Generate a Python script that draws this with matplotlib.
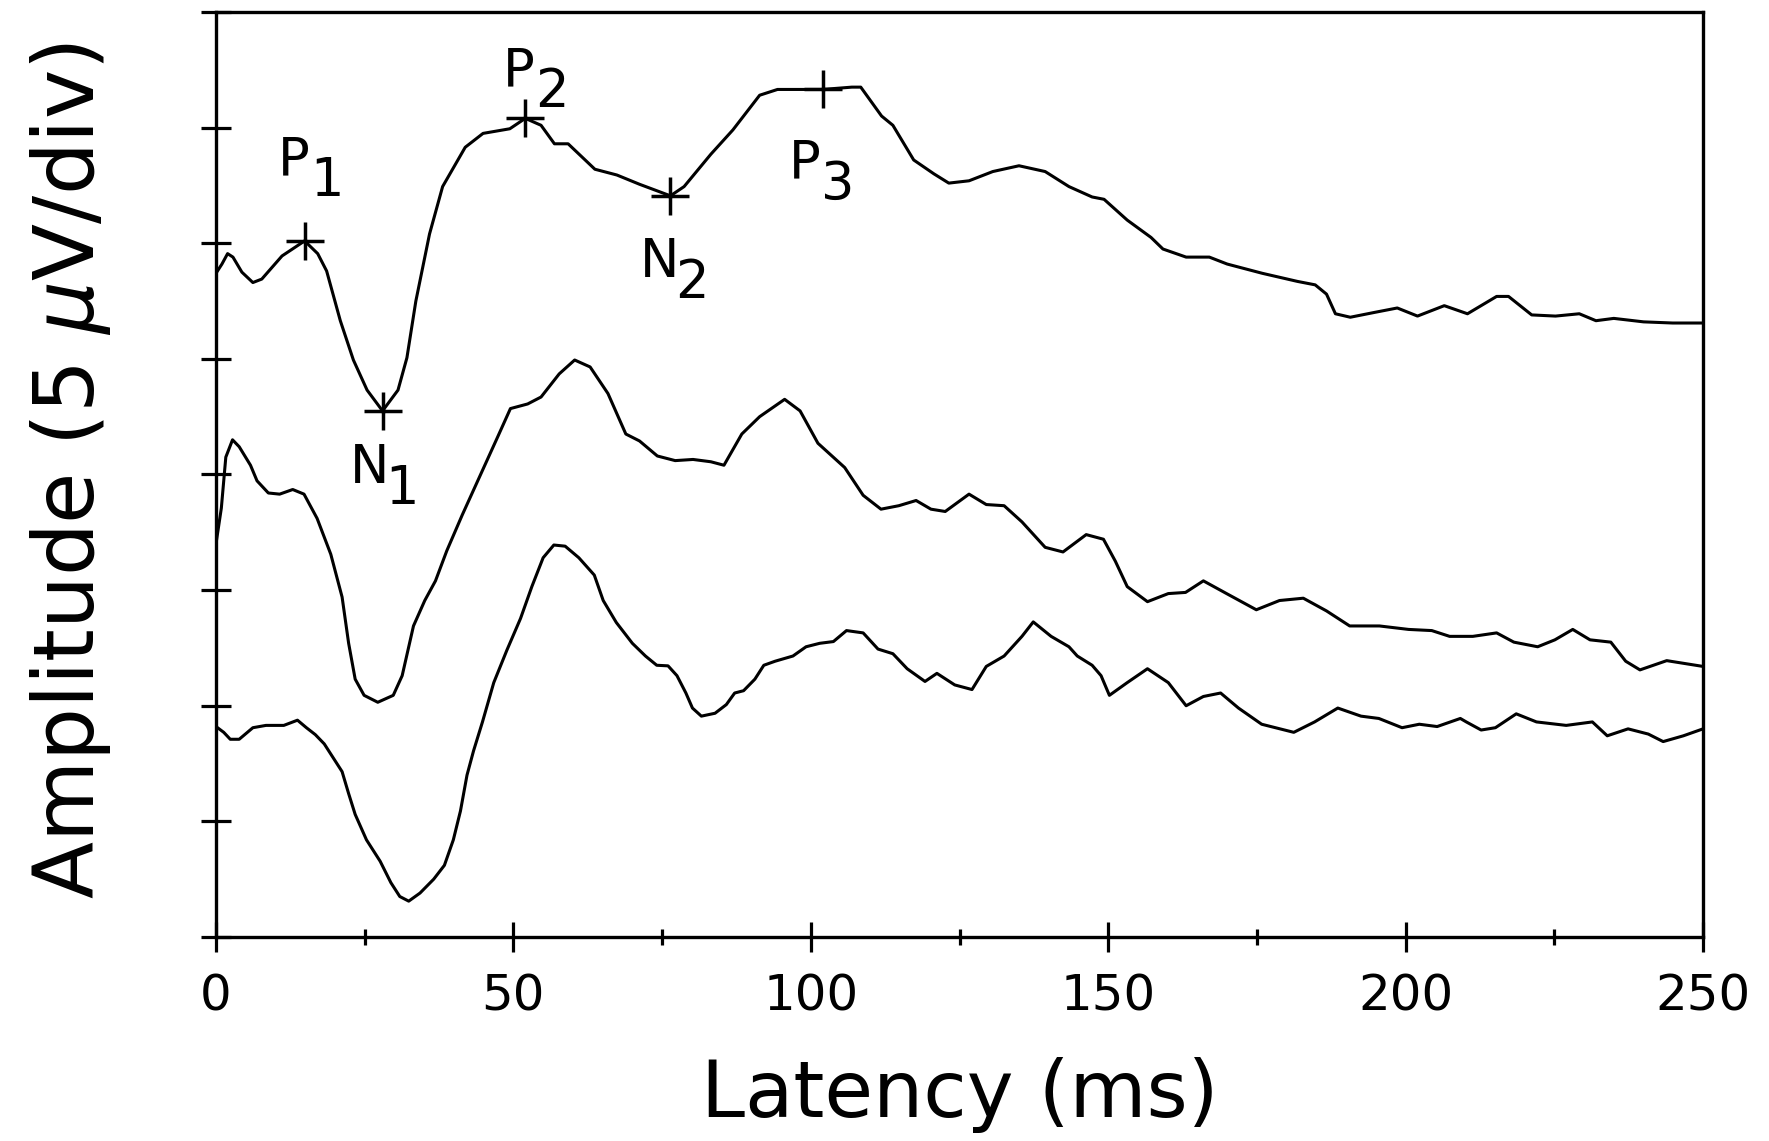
import numpy as np
import matplotlib.pyplot as plt

# latency (ms) and amplitude (divisions of 5 uV)
lat_top = [0.0, 1.0, 1.95, 2.85, 4.35, 6.2, 7.7, 11.1, 14.9, 17.1, 18.6, 20.9, 23.1, 25.4, 28.0,
           30.6, 32.1, 33.6, 35.9, 38.1, 41.9, 44.9, 49.4, 52.0, 54.65, 56.9, 59.2, 63.7, 67.4,
           71.2, 76.4, 78.7, 83.2, 86.9, 91.4, 94.4, 102.0, 106.9, 108.4, 111.9, 113.8, 117.3,
           120.7, 123.2, 126.6, 130.6, 135.0, 139.4, 143.4, 147.3, 149.3, 153.2, 157.2, 159.2,
           163.1, 167.0, 170.0, 175.9, 181.8, 184.8, 186.7, 188.2, 190.7, 194.6, 198.6, 202.0,
           206.5, 210.4, 215.3, 217.3, 221.2, 225.2, 229.2, 232.0, 235.0, 240.0, 244.9, 250.0]
amp_top = [5.74, 5.82, 5.91, 5.88, 5.75, 5.66, 5.69, 5.89, 6.02, 5.91, 5.76, 5.33, 4.99, 4.73, 4.55,
           4.73, 5.01, 5.50, 6.08, 6.49, 6.83, 6.95, 6.99, 7.08, 7.02, 6.86, 6.86, 6.64, 6.59,
           6.51, 6.41, 6.49, 6.77, 6.98, 7.28, 7.33, 7.33, 7.35, 7.35, 7.10, 7.02, 6.72,
           6.60, 6.52, 6.54, 6.62, 6.67, 6.62, 6.49, 6.40, 6.38, 6.20, 6.05, 5.95,
           5.88, 5.88, 5.82, 5.74, 5.67, 5.64, 5.56, 5.39, 5.36, 5.40, 5.44, 5.37,
           5.46, 5.39, 5.54, 5.54, 5.38, 5.37, 5.39, 5.33, 5.35, 5.32, 5.31, 5.31]

lat_mid = [0.0, 0.9, 1.65, 2.78, 3.9, 5.8, 6.9, 8.8, 10.7, 12.9, 14.8, 17.0, 19.3, 21.2, 22.3,
           23.4, 24.9, 27.2, 29.8, 31.3, 33.2, 35.1, 36.9, 38.8, 41.4, 44.4, 47.4, 49.5, 52.4,
           54.65, 57.7, 60.3, 62.9, 65.9, 68.9, 71.2, 74.2, 77.2, 80.2, 83.2, 85.4, 88.4, 91.4,
           95.6, 98.2, 101.2, 105.7, 108.8, 111.8, 114.8, 117.7, 120.2, 122.6, 126.6, 129.5,
           132.5, 135.5, 139.4, 142.4, 146.3, 149.2, 151.2, 153.2, 156.6, 160.1, 163.0, 166.0,
           169.9, 174.9, 178.8, 182.8, 186.7, 190.6, 195.6, 200.5, 204.4, 207.4, 211.3, 215.3,
           218.2, 222.2, 225.1, 228.1, 231.0, 234.5, 237.0, 239.4, 243.9, 250.0]
amp_mid = [3.40, 3.71, 4.15, 4.30, 4.24, 4.08, 3.945, 3.84, 3.83, 3.87, 3.83, 3.62, 3.31, 2.94, 2.54,
           2.23, 2.09, 2.03, 2.09, 2.26, 2.69, 2.91, 3.08, 3.34, 3.65, 3.99, 4.33, 4.57, 4.61,
           4.67, 4.87, 4.99, 4.93, 4.70, 4.35, 4.29, 4.16, 4.12, 4.13, 4.11, 4.08, 4.35, 4.50,
           4.65, 4.55, 4.27, 4.06, 3.82, 3.70, 3.73, 3.775, 3.70, 3.68, 3.83, 3.74,
           3.73, 3.59, 3.37, 3.33, 3.48, 3.44, 3.25, 3.03, 2.90, 2.97, 2.98, 3.08,
           2.97, 2.83, 2.91, 2.93, 2.82, 2.69, 2.69, 2.66, 2.65, 2.60, 2.60, 2.63,
           2.55, 2.51, 2.57, 2.66, 2.57, 2.55, 2.385, 2.31, 2.39, 2.34]

lat_bot = [0.0, 1.3, 2.4, 3.9, 6.2, 8.4, 11.4, 13.7, 15.2, 16.7, 18.2, 19.7, 21.2, 22.3, 23.4,
           25.3, 27.6, 29.4, 30.9, 32.4, 34.3, 36.6, 38.4, 39.9, 41.1, 42.2, 43.3, 44.8, 46.7,
           48.9, 51.2, 53.1, 55.0, 56.8, 58.7, 61.0, 63.6, 65.1, 67.3, 70.0, 72.2, 74.1, 76.0,
           77.5, 79.0, 80.1, 81.6, 83.9, 85.8, 87.2, 88.7, 90.6, 92.1, 94.0, 97.0, 99.2, 101.5,
           103.8, 106.0, 108.8, 111.3, 113.8, 116.2, 119.2, 121.2, 124.2, 127.1, 129.5, 132.5,
           135.5, 137.4, 140.4, 143.4, 144.8, 147.3, 148.8, 150.2, 153.2, 156.6, 160.1, 163.1,
           166.0, 168.9, 171.9, 175.8, 181.2, 184.7, 188.6, 192.5, 195.5, 199.4, 202.3, 205.3,
           209.2, 210.2, 212.7, 215.1, 218.6, 222.0, 227.0, 231.4, 233.9, 237.4, 240.8, 243.3,
           246.7, 250.0]
amp_bot = [1.82, 1.77, 1.71, 1.71, 1.81, 1.83, 1.83, 1.875, 1.81, 1.75, 1.67, 1.55, 1.43, 1.24, 1.06,
           0.84, 0.655, 0.47, 0.35, 0.31, 0.38, 0.50, 0.62, 0.84, 1.09, 1.40, 1.61, 1.86, 2.20,
           2.48, 2.755, 3.03, 3.28, 3.39, 3.38, 3.28, 3.13, 2.91, 2.72, 2.54, 2.43, 2.35, 2.345,
           2.26, 2.11, 1.98, 1.91, 1.935, 2.01, 2.11, 2.13, 2.23, 2.35, 2.385, 2.43, 2.51, 2.54,
           2.555, 2.65, 2.63, 2.49, 2.45, 2.32, 2.21, 2.28, 2.18, 2.14, 2.34, 2.43,
           2.60, 2.725, 2.60, 2.51, 2.43, 2.35, 2.26, 2.09, 2.20, 2.32, 2.20, 2.00,
           2.08, 2.11, 1.98, 1.84, 1.77, 1.86, 1.98, 1.91, 1.89, 1.81, 1.84, 1.82,
           1.89, 1.86, 1.79, 1.81, 1.93, 1.86, 1.83, 1.86, 1.74, 1.80, 1.755, 1.69,
           1.74, 1.80]

# marked components on the top trace
peak_names = ['P', 'N', 'P', 'N', 'P']
peak_nums = ['1', '1', '2', '2', '3']
peak_lat = [14.9, 28.0, 52.0, 76.4, 102.0]
peak_amp = [6.02, 4.55, 7.08, 6.41, 7.33]
# where the labels sit (letter centre)
label_lat = [13.1, 25.8, 50.9, 74.5, 98.9]
label_amp = [6.72, 4.06, 7.49, 5.84, 6.69]

fig = plt.figure(figsize=(17.69, 11.41), dpi=100)
ax = fig.add_axes([0.1221, 0.1788, 0.8406, 0.8107])

for lat, amp in [(lat_top, amp_top), (lat_mid, amp_mid), (lat_bot, amp_bot)]:
    ax.plot(lat, amp, color='black', lw=2.2, solid_joinstyle='round')

ax.plot(peak_lat, peak_amp, linestyle='none', marker='+', color='black',
        markersize=28, markeredgewidth=2.5)

for name, num, x, y in zip(peak_names, peak_nums, label_lat, label_amp):
    ax.text(x, y, name, fontsize=38, ha='center', va='center')
    ax.annotate(num, (x, y), xytext=(33, -21), textcoords='offset pixels',
                fontsize=38, ha='center', va='center')

ax.set_xlim(0, 250)
ax.set_ylim(0, 8)
ax.set_xticks(np.arange(0, 251, 50))
ax.set_xticks(np.arange(25, 250, 50), minor=True)
ax.set_yticks(np.arange(0, 9, 1))

ax.tick_params(axis='x', which='major', direction='inout', length=21.6, width=2.3,
               labelsize=36, pad=15)
ax.tick_params(axis='x', which='minor', direction='inout', length=11.5, width=2.3)
ax.tick_params(axis='y', which='major', direction='inout', length=21.6, width=2.3,
               labelleft=False)
for s in ax.spines.values():
    s.set_linewidth(2.4)

ax.set_xlabel('Latency (ms)', fontsize=57, va='baseline')
ax.xaxis.set_label_coords(0.5, -0.1946)
ax.set_ylabel('Amplitude (5 $\\mu$V/div)', fontsize=60, va='baseline')
ax.yaxis.set_label_coords(-0.082, 0.504)

fig.savefig('out.png', dpi=100)
